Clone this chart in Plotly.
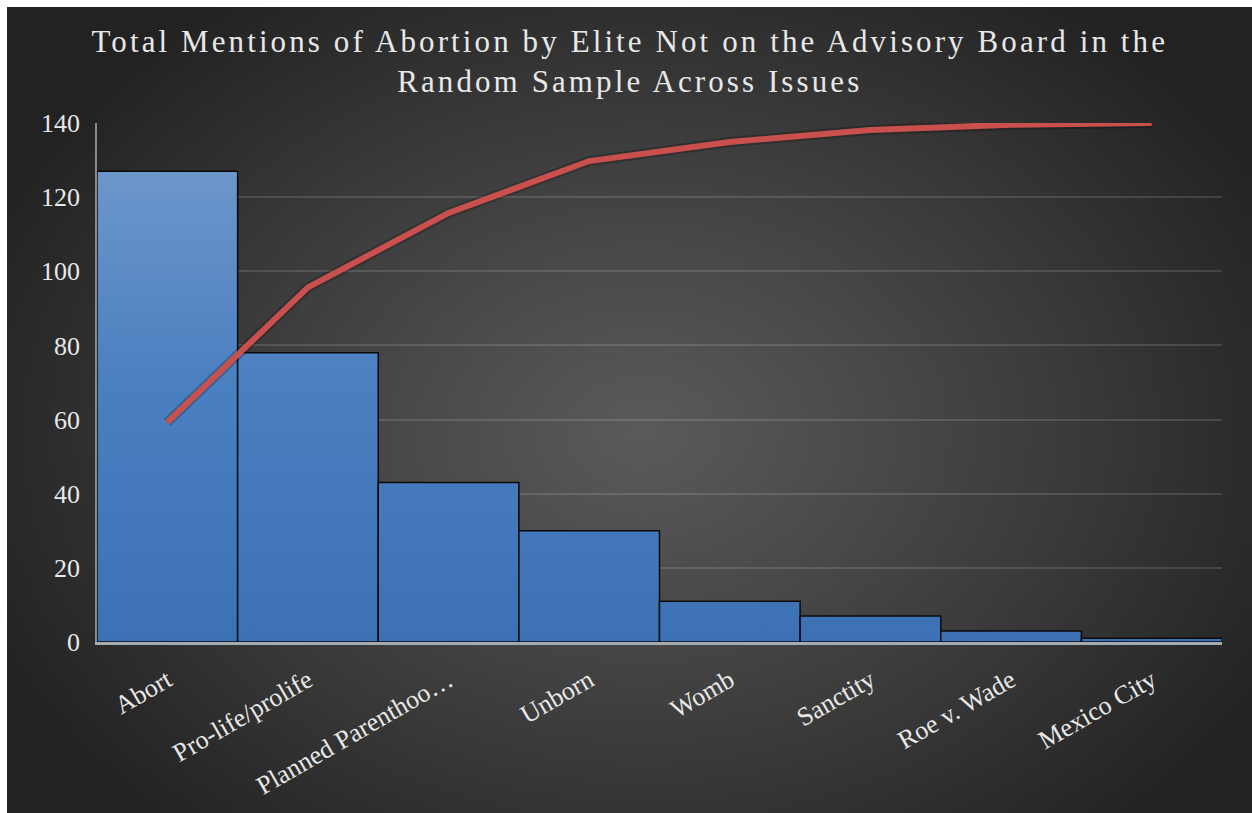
import base64
import struct
import zlib

import numpy as np
import plotly.graph_objects as go

# ---- data -------------------------------------------------------------
categories = [
    "Abort",
    "Pro-life/prolife",
    "Planned Parenthoo…",
    "Unborn",
    "Womb",
    "Sanctity",
    "Roe v. Wade",
    "Mexico City",
]
mentions = [127, 78, 43, 30, 11, 7, 3, 1]
y_ticks = [0, 20, 40, 60, 80, 100, 120, 140]

title_lines = [
    "Total Mentions of Abortion by Elite Not on the Advisory Board in the",
    "Random Sample Across Issues",
]

# ---- page geometry ----------------------------------------------------
W, H = 1252, 813
M_L, M_R, M_T, M_B = 97, 30, 123, 171
PW, PH = W - M_L - M_R, H - M_T - M_B
FRAME = 7  # white strip along the top and left edges


def png_data_uri(rgb):
    """Encode an HxWx3 uint8 array as a PNG data URI."""
    h, w, _ = rgb.shape
    raw = b"".join(b"\x00" + rgb[r].tobytes() for r in range(h))

    def chunk(tag, data):
        body = tag + data
        return struct.pack(">I", len(data)) + body + struct.pack(">I", zlib.crc32(body) & 0xFFFFFFFF)

    png = (
        b"\x89PNG\r\n\x1a\n"
        + chunk(b"IHDR", struct.pack(">IIBBBBB", w, h, 8, 2, 0, 0, 0))
        + chunk(b"IDAT", zlib.compress(raw, 9))
        + chunk(b"IEND", b"")
    )
    return "data:image/png;base64," + base64.b64encode(png).decode()


# radial charcoal backdrop (rendered at quarter size, stretched by the browser)
bw, bh = (W - FRAME) // 4, (H - FRAME) // 4
yy, xx = np.mgrid[0:bh, 0:bw].astype(float)
px, py = xx * 4 + FRAME, yy * 4 + FRAME
t = np.sqrt(((px - 640) / 720) ** 2 + ((py - 430) / 540) ** 2)
t = np.clip(t, 0, 1) ** 1.1
centre, edge = np.array([0x5a, 0x5a, 0x5a]), np.array([0x22, 0x22, 0x22])
bg = (centre[None, None, :] * (1 - t[..., None]) + edge[None, None, :] * t[..., None]).astype(np.uint8)
bg_uri = png_data_uri(bg)

# ---- figure -----------------------------------------------------------
fig = go.Figure()

serif = "Liberation Serif, Times New Roman, serif"
text_col = "#e8e8e8"

# columns drawn as filled outlines so each can carry a vertical gradient
top_val = max(mentions)
for i, v in enumerate(mentions):
    fig.add_trace(
        go.Scatter(
            x=[i - 0.5, i - 0.5, i + 0.5, i + 0.5, i - 0.5],
            y=[0, v, v, 0, 0],
            mode="lines",
            fill="toself",
            fillgradient=dict(
                type="vertical",
                colorscale=[[0, "#3c71b4"], [0.55, "#4a7fc0"], [1, "#6d96cb"]],
                start=0,
                stop=top_val,
            ),
            line=dict(color="#0a0a0a", width=1.5),
            hoverinfo="skip",
            showlegend=False,
        )
    )

# cumulative share line (right-hand scale, hidden)
cum_pct = np.cumsum(mentions) / np.sum(mentions) * 100
x_idx = list(range(len(categories)))
fig.add_trace(
    go.Scatter(
        x=x_idx,
        y=cum_pct,
        yaxis="y2",
        mode="lines",
        line=dict(color="rgba(0,0,0,0.22)", width=10),
        hoverinfo="skip",
        showlegend=False,
    )
)
fig.add_trace(
    go.Scatter(
        x=x_idx,
        y=cum_pct,
        yaxis="y2",
        mode="lines",
        line=dict(color="#c9504c", width=6),
        showlegend=False,
    )
)

spaced = "<br>".join(
    f'<span style="letter-spacing:3.1px">{line}</span>' for line in title_lines
)

fig.update_layout(
    width=W,
    height=H,
    margin=dict(l=M_L, r=M_R, t=M_T, b=M_B, pad=0),
    paper_bgcolor="white",
    plot_bgcolor="rgba(0,0,0,0)",
    font=dict(family=serif, color=text_col),
    title=dict(
        text=spaced,
        x=0.503,
        xanchor="center",
        y=1 - 52 / H,
        yanchor="top",
        font=dict(family=serif, size=31, color=text_col),
    ),
    xaxis=dict(
        range=[-0.5, len(categories) - 0.5],
        tickvals=x_idx,
        ticktext=categories,
        tickangle=-30,
        tickfont=dict(family=serif, size=26, color=text_col),
        ticklabelstandoff=10,
        showgrid=False,
        zeroline=False,
        showline=True,
        linecolor="#a6aab2",
        linewidth=3,
        ticks="",
        fixedrange=True,
    ),
    yaxis=dict(
        range=[0, 140],
        tickvals=y_ticks,
        tickfont=dict(family=serif, size=26, color=text_col),
        showgrid=True,
        gridcolor="rgba(255,255,255,0.13)",
        gridwidth=1.5,
        zeroline=False,
        showline=True,
        linecolor="#8a8a8a",
        linewidth=1.5,
        ticks="",
        ticklabelstandoff=10,
    ),
    yaxis2=dict(
        range=[0, 100],
        overlaying="y",
        side="right",
        visible=False,
    ),
    images=[
        dict(
            source=bg_uri,
            xref="paper",
            yref="paper",
            x=(FRAME - M_L) / PW,
            y=1 + (M_T - FRAME) / PH,
            sizex=(W - FRAME) / PW,
            sizey=(H - FRAME) / PH,
            xanchor="left",
            yanchor="top",
            sizing="stretch",
            layer="below",
        )
    ],
)

fig.write_html("out.html")
